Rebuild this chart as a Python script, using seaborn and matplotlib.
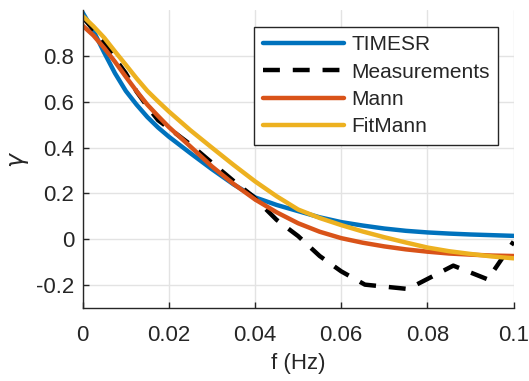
import numpy as np
import pandas as pd
import matplotlib
matplotlib.use("Agg")
import matplotlib.pyplot as plt
import seaborn as sns

# ---- data ----
f_model = [0.0, 0.0025, 0.005, 0.0075, 0.01, 0.0125, 0.015, 0.0175, 0.02, 0.025,
           0.03, 0.035, 0.04, 0.045, 0.05, 0.055, 0.06, 0.065, 0.07, 0.075,
           0.08, 0.085, 0.09, 0.095, 0.1]
timesr = [0.99, 0.91, 0.815, 0.725, 0.648, 0.588, 0.534, 0.488, 0.448, 0.376,
          0.306, 0.240, 0.183, 0.150, 0.123, 0.096, 0.075, 0.06, 0.047, 0.037,
          0.030, 0.025, 0.021, 0.018, 0.015]
mann = [0.933, 0.89, 0.835, 0.775, 0.71, 0.647, 0.588, 0.538, 0.49, 0.405,
        0.318, 0.242, 0.174, 0.118, 0.07, 0.033, 0.005, -0.015, -0.031, -0.044,
        -0.054, -0.062, -0.067, -0.071, -0.073]
fitmann = [0.975, 0.93, 0.88, 0.82, 0.762, 0.703, 0.648, 0.602, 0.558, 0.476,
           0.400, 0.325, 0.253, 0.188, 0.13, 0.093, 0.062, 0.034, 0.009, -0.014,
           -0.036, -0.052, -0.064, -0.075, -0.083]
f_meas = [0.0, 0.005, 0.0075, 0.01, 0.0125, 0.015, 0.0175, 0.02, 0.025, 0.03,
          0.035, 0.0395, 0.045, 0.05, 0.055, 0.06, 0.0655, 0.0755, 0.086, 0.094, 0.1]
meas = [0.97, 0.86, 0.79, 0.725, 0.645, 0.58, 0.52, 0.485, 0.414, 0.334,
        0.255, 0.188, 0.085, 0.014, -0.073, -0.14, -0.198, -0.217, -0.115, -0.175, -0.01]

xticks = [0, 0.02, 0.04, 0.06, 0.08, 0.1]
xticklabels = ["0", "0.02", "0.04", "0.06", "0.08", "0.1"]
yticks = [-0.2, 0, 0.2, 0.4, 0.6, 0.8]
yticklabels = ["-0.2", "0", "0.2", "0.4", "0.6", "0.8"]

sns.set_theme(style="white")
plt.rcParams['font.family'] = ['Liberation Sans', 'DejaVu Sans']

fig = plt.figure(figsize=(5.29, 3.81), dpi=100)
ax = fig.add_axes([0.1563, 0.1916, 0.8146, 0.7814])

lw = 3.2
sns.lineplot(x=f_model, y=timesr, ax=ax, color='#0072BD', lw=lw, label='TIMESR')
sns.lineplot(x=f_meas, y=meas, ax=ax, color='black', lw=lw, label='Measurements',
             dashes=False)
ax.lines[-1].set_dashes([3.8, 2.9])
sns.lineplot(x=f_model, y=mann, ax=ax, color='#D95319', lw=lw, label='Mann')
sns.lineplot(x=f_model, y=fitmann, ax=ax, color='#EDB120', lw=lw, label='FitMann')

ax.set_xlim(0, 0.1)
ax.set_ylim(-0.3, 1.0)
ax.set_xticks(xticks)
ax.set_xticklabels(xticklabels)
ax.set_yticks(yticks)
ax.set_yticklabels(yticklabels)
ax.grid(True, color='#e3e3e3', lw=1.0)
ax.set_axisbelow(True)
for s in ['top', 'right']:
    ax.spines[s].set_visible(False)
for s in ['left', 'bottom']:
    ax.spines[s].set_color('#262626')
    ax.spines[s].set_linewidth(1.0)
ax.tick_params(direction='in', length=4, width=1.0, colors='#262626',
               labelsize=16, left=True, bottom=True)
ax.tick_params(axis='x', pad=12)
ax.tick_params(axis='y', pad=6)
ax.set_xlabel('f (Hz)', fontsize=16, color='#262626', labelpad=5)
ax.set_ylabel(r'$\gamma$', fontsize=17, color='#262626', labelpad=4)

leg = ax.legend(loc='upper right', bbox_to_anchor=(0.964, 0.944), fontsize=15,
                handlelength=3.9, handletextpad=0.35, labelspacing=0.4,
                borderpad=0.4, borderaxespad=0, frameon=True, fancybox=False)
leg.get_frame().set_edgecolor('#262626')
leg.get_frame().set_linewidth(1.0)
leg.get_frame().set_alpha(1)

fig.savefig('out.png', dpi=100)
